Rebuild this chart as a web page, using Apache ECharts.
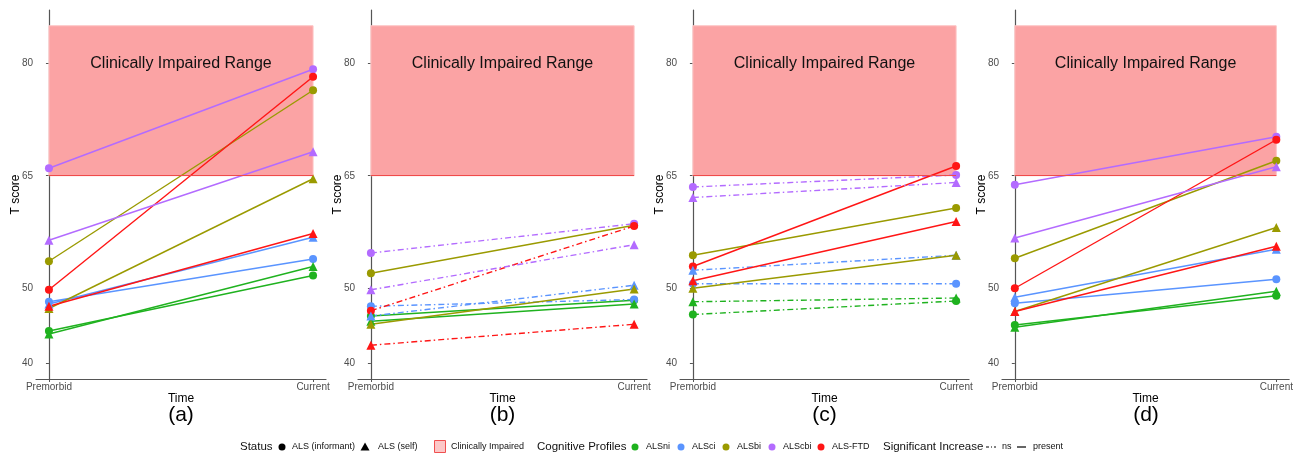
<!DOCTYPE html>
<html>
<head>
<meta charset="utf-8">
<script src="https://cdn.jsdelivr.net/npm/echarts@6/dist/echarts.min.js"></script>
<style>html,body{margin:0;padding:0;background:#fff}#c{width:1296px;height:458px}</style>
</head>
<body>
<div id="c"></div>
<script>
// ---------- data ----------
const profiles = ['ALSni', 'ALSci', 'ALSbi', 'ALScbi', 'ALS-FTD'];
const statuses = ['ALS (informant)', 'ALS (self)'];
const timeLabels = ['Premorbid', 'Current'];
const yTicks = [40, 50, 65, 80];
const panelLabels = ['(a)', '(b)', '(c)', '(d)'];
const impairedFrom = 65;
const impairedTo = 85;

// panel (a)
const aInfPre  = [44.3, 48.2, 53.6, 66.0, 49.8];
const aInfCur  = [51.7, 53.9, 76.4, 79.2, 78.2];
const aSelfPre = [43.9, 47.9, 47.3, 56.4, 47.6];
const aSelfCur = [52.9, 56.8, 64.6, 68.2, 57.3];
const aInfSig  = ['present', 'present', 'present', 'present', 'present'];
const aSelfSig = ['present', 'present', 'present', 'present', 'present'];
// panel (b)
const bInfPre  = [46.3, 47.6, 52.0, 54.7, 47.0];
const bInfCur  = [48.4, 48.5, 58.4, 58.6, 58.3];
const bSelfPre = [45.6, 46.3, 45.2, 49.8, 42.4];
const bSelfCur = [47.9, 50.4, 49.9, 55.8, 45.2];
const bInfSig  = ['present', 'ns', 'present', 'ns', 'ns'];
const bSelfSig = ['present', 'ns', 'present', 'ns', 'ns'];
// panel (c)
const cInfPre  = [46.5, 50.6, 54.4, 63.5, 52.9];
const cInfCur  = [48.3, 50.6, 60.7, 65.1, 66.3];
const cSelfPre = [48.2, 52.4, 50.0, 62.1, 51.0];
const cSelfCur = [48.7, 54.4, 54.4, 64.1, 58.9];
const cInfSig  = ['ns', 'ns', 'present', 'ns', 'present'];
const cSelfSig = ['ns', 'ns', 'present', 'ns', 'present'];
// panel (d)
const dInfPre  = [45.1, 48.0, 54.0, 63.8, 50.0];
const dInfCur  = [49.0, 51.2, 67.0, 70.2, 69.8];
const dSelfPre = [44.8, 48.8, 46.9, 56.7, 46.9];
const dSelfCur = [49.6, 55.2, 58.1, 66.2, 55.6];
const dInfSig  = ['present', 'present', 'present', 'present', 'present'];
const dSelfSig = ['present', 'present', 'present', 'present', 'present'];

// ---------- styling ----------
const profileColors = ['#1FB21F', '#5A94FF', '#9A9A00', '#B36BFF', '#FF1515'];
const dotdash = [6, 3, 1.5, 3];
const panels = [
  {inf: [aInfPre, aInfCur], self: [aSelfPre, aSelfCur], sig: [aInfSig, aSelfSig]},
  {inf: [bInfPre, bInfCur], self: [bSelfPre, bSelfCur], sig: [bInfSig, bSelfSig]},
  {inf: [cInfPre, cInfCur], self: [cSelfPre, cSelfCur], sig: [cInfSig, cSelfSig]},
  {inf: [dInfPre, dInfCur], self: [dSelfPre, dSelfCur], sig: [dInfSig, dSelfSig]}
];
const gridLefts = [36, 358, 680, 1002];
const gridWidths = [290, 289, 289, 288];
const gridTop = 10, gridHeight = 369;
const font = 'Liberation Sans, Arial, sans-serif';

const grids = [], xAxes = [], yAxes = [], series = [], graphics = [];
panels.forEach((p, i) => {
  grids.push({left: gridLefts[i], width: gridWidths[i], top: gridTop, height: gridHeight, containLabel: false});
  xAxes.push({
    type: 'value', gridIndex: i, min: -0.049, max: 1.049,
    name: 'Time', nameLocation: 'middle', nameGap: 14, nameMoveOverlap: false,
    nameTextStyle: {fontSize: 12, color: '#000', fontFamily: font},
    splitLine: {show: false},
    axisLine: {show: true, lineStyle: {color: '#555', width: 1.2}},
    axisTick: {show: true, length: 3, lineStyle: {color: '#555'}, customValues: [0, 1]},
    axisLabel: {customValues: [0, 1], formatter: v => timeLabels[v] || '', fontSize: 10, color: '#4D4D4D', margin: 3, fontFamily: font}
  });
  yAxes.push({
    type: 'value', gridIndex: i, min: 37.9, max: 87.1,
    name: 'T score', nameLocation: 'middle', nameGap: 14, nameRotate: 90, nameMoveOverlap: false,
    nameTextStyle: {fontSize: 12, color: '#000', fontFamily: font},
    splitLine: {show: false},
    axisLine: {show: true, lineStyle: {color: '#555', width: 1.2}},
    axisTick: {show: true, length: 3, lineStyle: {color: '#555'}, customValues: yTicks},
    axisLabel: {customValues: yTicks, fontSize: 10, color: '#4D4D4D', margin: 3, fontFamily: font}
  });
  // background impaired range
  series.push({
    type: 'line', xAxisIndex: i, yAxisIndex: i, data: [], silent: true, z: 1,
    markArea: {
      silent: true,
      itemStyle: {color: '#FBA3A4', borderColor: '#FDC4C4', borderWidth: 1},
      label: {show: true, position: 'insideTop', distance: 30, fontSize: 16, color: '#111', fontFamily: font},
      data: [[{name: 'Clinically Impaired Range', coord: [0, impairedFrom]}, {coord: [1, impairedTo]}]]
    },
    markLine: {
      silent: true, symbol: ['none', 'none'], label: {show: false},
      lineStyle: {color: '#F04A4A', width: 1.2, type: 'solid'},
      data: [[{coord: [0, impairedFrom]}, {coord: [1, impairedFrom]}]]
    }
  });
  [p.inf, p.self].forEach((vals, s) => {
    profiles.forEach((name, k) => {
      const col = profileColors[k];
      series.push({
        type: 'line', name: name, xAxisIndex: i, yAxisIndex: i, z: 3,
        data: [[0, vals[0][k]], [1, vals[1][k]]],
        symbol: s === 0 ? 'circle' : 'triangle',
        symbolSize: s === 0 ? 8 : 9,
        showAllSymbol: true,
        itemStyle: {color: col, borderWidth: 0},
        lineStyle: {color: col, width: 1.4, type: p.sig[s][k] === 'ns' ? dotdash : 'solid'},
        emphasis: {disabled: true},
        animation: false
      });
    });
  });
  graphics.push({
    type: 'text', x: gridLefts[i] + gridWidths[i] / 2, y: 415,
    style: {text: panelLabels[i], fontSize: 21, fill: '#000', align: 'center', verticalAlign: 'middle', fontFamily: font}
  });
});

// ---------- legend (drawn as graphics) ----------
const ly = 447;
const t = (x, text, size) => ({type: 'text', x: x, y: ly, style: {text: text, fontSize: size, fill: '#111', verticalAlign: 'middle', fontFamily: font}});
graphics.push(t(240, 'Status', 11.5));
graphics.push({type: 'circle', shape: {cx: 282, cy: ly, r: 3.5}, style: {fill: '#000'}});
graphics.push(t(292, statuses[0], 9));
graphics.push({type: 'polygon', shape: {points: [[365, ly - 4.5], [369.5, ly + 3.5], [360.5, ly + 3.5]]}, style: {fill: '#000'}});
graphics.push(t(378, statuses[1], 9));
graphics.push({type: 'rect', shape: {x: 434.5, y: ly - 6.5, width: 11, height: 12}, style: {fill: '#FCC8C8', stroke: '#F05050', lineWidth: 1}});
graphics.push(t(451, 'Clinically Impaired', 9));
graphics.push(t(537, 'Cognitive Profiles', 11.5));
const legendProfX = [635, 681, 726, 772, 821];
profiles.forEach((name, k) => {
  graphics.push({type: 'circle', shape: {cx: legendProfX[k], cy: ly, r: 3.5}, style: {fill: profileColors[k]}});
  graphics.push(t(legendProfX[k] + 11, name, 9));
});
graphics.push(t(883, 'Significant Increase', 11.5));
graphics.push({type: 'line', shape: {x1: 986, y1: ly, x2: 996, y2: ly}, style: {stroke: '#000', lineWidth: 1, lineDash: [3, 2, 1, 2]}});
graphics.push(t(1002, 'ns', 9));
graphics.push({type: 'line', shape: {x1: 1017, y1: ly, x2: 1026, y2: ly}, style: {stroke: '#000', lineWidth: 1.2}});
graphics.push(t(1033, 'present', 9));

const chart = echarts.init(document.getElementById('c'), null, {renderer: 'canvas'});
chart.setOption({
  animation: false,
  backgroundColor: '#fff',
  grid: grids,
  xAxis: xAxes,
  yAxis: yAxes,
  series: series,
  graphic: graphics
});
</script>
</body>
</html>
